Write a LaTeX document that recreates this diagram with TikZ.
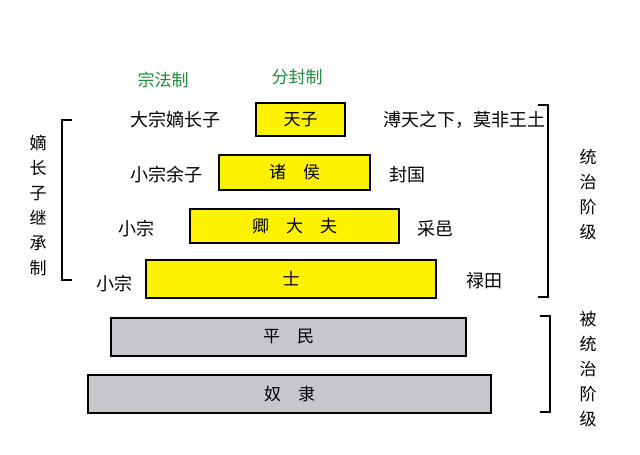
\documentclass[tikz,border=0pt]{standalone}
\usepackage{fontspec}
\setmainfont{Noto Sans CJK SC}
\begin{document}
\begin{tikzpicture}[x=1pt,y=-1pt,
  lvl/.style={draw=black,line width=2.2pt,font=\fontsize{17}{19}\selectfont},
  yb/.style={lvl,fill=yellow},
  gb/.style={lvl,fill={rgb,255:red,200;green,198;blue,205}},
  lab/.style={font=\fontsize{18}{20}\selectfont},
  grn/.style={font=\fontsize{17}{19}\selectfont,text={rgb,255:red,30;green,140;blue,60}},
  vt/.style={font=\fontsize{17}{25}\selectfont,align=center,text width=18pt,inner sep=0pt},
  brk/.style={line width=1.6pt}]
\useasboundingbox (0,0) rectangle (640,455);
\fill[white] (0,0) rectangle (640,455);
\node[yb,minimum width=89,minimum height=33] (tz) at (300.5,119.5) {天子};
\node[yb,minimum width=151,minimum height=35] (zh) at (294.5,172.5) {诸\quad 侯};
\node[yb,minimum width=209,minimum height=34] (qd) at (294.5,226) {卿\quad 大\quad 夫};
\node[yb,minimum width=290,minimum height=38] (sh) at (291,279) {士};
\node[gb,minimum width=355,minimum height=38] (pm) at (288.5,337) {平\quad 民};
\node[gb,minimum width=403,minimum height=38] (nl) at (289.5,394) {奴\quad 隶};
\node[grn] (zf) at (163,80) {宗法制};
\node[grn] (ff) at (297,77) {分封制};
\node[lab] (dz) at (175,120) {大宗嫡长子};
\node[lab] (pt) at (464,120) {溥天之下，莫非王土};
\node[lab] (xz1) at (166,175) {小宗余子};
\node[lab] (fg) at (407,175) {封国};
\node[lab] (xz2) at (136,229) {小宗};
\node[lab] (cy) at (435,229) {采邑};
\node[lab] (xz3) at (114,284) {小宗};
\node[lab] (lt) at (484,281) {禄田};
\node[vt] (dzc) at (38,205) {嫡\\长\\子\\继\\承\\制};
\node[vt] (tzj) at (588,195) {统\\治\\阶\\级};
\node[vt] (btz) at (588,369) {被\\统\\治\\阶\\级};
\coordinate (l1) at (72,120); \coordinate (l2) at (72,280);
\draw[brk] (l1) -- ++(-10,0) |- (l2);
\coordinate (r1) at (538,105); \coordinate (r2) at (538,297);
\draw[brk] (r1) -- ++(10,0) |- (r2);
\coordinate (r3) at (540,316); \coordinate (r4) at (540,412);
\draw[brk] (r3) -- ++(10,0) |- (r4);
\end{tikzpicture}
\end{document}
